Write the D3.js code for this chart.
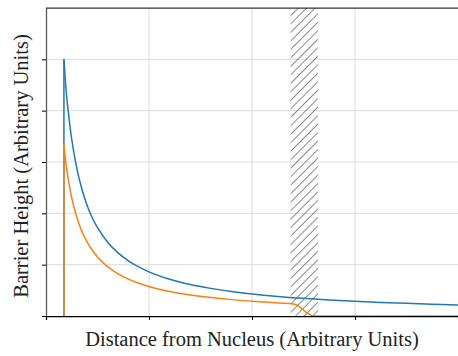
<!DOCTYPE html>
<html>
<head>
<meta charset="utf-8">
<script src="https://cdn.jsdelivr.net/npm/d3@7"></script>
<style>
    html, body { margin: 0; padding: 0; background: #ffffff; }
    svg { display: block; }
</style>
</head>
<body>
<svg></svg>
<script>
const width = 458;
const height = 356;

const margin = { left: 46, right: 0, top: 8, bottom: 40 };

// Barrier profiles
const blueDistance = [0.174, 0.19, 0.214, 0.24, 0.27, 0.3, 0.35, 0.4, 0.45, 0.5, 0.6, 0.7, 0.8, 0.9, 1.0, 1.2, 1.4, 1.6, 1.8, 2.0, 2.25, 2.5, 2.75, 3.0, 3.25, 3.5, 3.75, 4.0];
const blueHeight = [5.0, 4.53, 4.02, 3.58, 3.19, 2.87, 2.46, 2.15, 1.91, 1.72, 1.433, 1.229, 1.075, 0.956, 0.86, 0.717, 0.614, 0.538, 0.478, 0.43, 0.382, 0.344, 0.313, 0.287, 0.265, 0.246, 0.229, 0.215];

const orangeDistance = [0.174, 0.19, 0.214, 0.24, 0.27, 0.3, 0.35, 0.4, 0.45, 0.5, 0.6, 0.7, 0.8, 0.9, 1.0, 1.2, 1.4, 1.6, 1.8, 2.0, 2.2, 2.35, 2.4, 2.44, 2.48, 2.52, 2.56, 2.6, 3.0, 3.5, 4.0];
const orangeHeight = [3.34, 3.03, 2.69, 2.40, 2.13, 1.92, 1.64, 1.44, 1.28, 1.15, 0.958, 0.821, 0.719, 0.639, 0.575, 0.479, 0.411, 0.359, 0.319, 0.288, 0.261, 0.245, 0.235, 0.21, 0.15, 0.08, 0.03, 0, 0, 0, 0];

// shaded (hatched) region in distance units
const hatchRange = [2.376, 2.64];

const xTicks = [0, 1, 2, 3];
const yTicks = [0, 1, 2, 3, 4, 5];

const xLabel = "Distance from Nucleus (Arbitrary Units)";
const yLabel = "Barrier Height (Arbitrary Units)";

const blueColor = "#1f77b4";
const orangeColor = "#ff7f0e";
const gridColor = "#dcdcdc";
const fontFamily = "'Liberation Serif', 'DejaVu Serif', serif";
const fontSize = 20.5;

const svg = d3.select("svg")
    .attr("width", width)
    .attr("height", height)
    .attr("viewBox", [0, 0, width, height]);

const x = d3.scaleLinear()
    .domain([0, 4])
    .range([margin.left, width - margin.right]);

const y = d3.scaleLinear()
    .domain([0, 6])
    .range([height - margin.bottom, margin.top]);

const defs = svg.append("defs");
const hatch = defs.append("pattern")
    .attr("id", "hatch")
    .attr("patternUnits", "userSpaceOnUse")
    .attr("width", 6)
    .attr("height", 6)
    .attr("patternTransform", "rotate(45)");
hatch.append("line")
    .attr("x1", 0.5)
    .attr("y1", 0)
    .attr("x2", 0.5)
    .attr("y2", 6)
    .attr("stroke", "#666")
    .attr("stroke-width", 0.75);

// grid
svg.append("g")
    .selectAll("line")
    .data(xTicks.filter(d => d > 0))
    .join("line")
    .attr("x1", d => x(d))
    .attr("x2", d => x(d))
    .attr("y1", y(0))
    .attr("y2", y(6))
    .attr("stroke", gridColor)
    .attr("stroke-width", 1);

svg.append("g")
    .selectAll("line")
    .data(yTicks.filter(d => d > 0))
    .join("line")
    .attr("x1", x(0))
    .attr("x2", x(4))
    .attr("y1", d => y(d))
    .attr("y2", d => y(d))
    .attr("stroke", gridColor)
    .attr("stroke-width", 1);

// hatched band
svg.append("rect")
    .attr("x", x(hatchRange[0]))
    .attr("y", y(6))
    .attr("width", x(hatchRange[1]) - x(hatchRange[0]))
    .attr("height", y(0) - y(6))
    .attr("fill", "url(#hatch)")
    .attr("stroke", "none");

const line = d3.line()
    .x(d => x(d[0]))
    .y(d => y(d[1]))
    .curve(d3.curveMonotoneX);

const blueData = d3.zip(blueDistance, blueHeight);
const orangeData = d3.zip(orangeDistance, orangeHeight);

function drawSeries(data, color) {
    // vertical jump at the nucleus edge
    svg.append("line")
        .attr("x1", x(data[0][0]))
        .attr("x2", x(data[0][0]))
        .attr("y1", y(0))
        .attr("y2", y(data[0][1]))
        .attr("stroke", color)
        .attr("stroke-width", 1.5);
    svg.append("path")
        .attr("d", line(data))
        .attr("fill", "none")
        .attr("stroke", color)
        .attr("stroke-width", 1.5);
}

drawSeries(blueData, blueColor);
drawSeries(orangeData, orangeColor);

// axes
const xAxis = svg.append("g")
    .attr("transform", `translate(0, ${y(0)})`)
    .call(d3.axisBottom(x).tickValues(xTicks).tickSize(4).tickFormat(""));
xAxis.select(".domain").attr("stroke", "#000").attr("stroke-width", 1.25);
xAxis.selectAll(".tick line").attr("stroke", "#000").attr("stroke-width", 1);

const yAxis = svg.append("g")
    .attr("transform", `translate(${x(0)}, 0)`)
    .call(d3.axisLeft(y).tickValues(yTicks).tickSize(4).tickFormat(""));
yAxis.select(".domain").attr("stroke", "#555").attr("stroke-width", 1.25)
    .attr("d", `M0.5,${y(0)}V${y(6)}`);
yAxis.selectAll(".tick line").attr("stroke", "#000").attr("stroke-width", 1);

svg.append("line")
    .attr("x1", x(0))
    .attr("x2", x(4))
    .attr("y1", y(6))
    .attr("y2", y(6))
    .attr("stroke", "#333")
    .attr("stroke-width", 1.25);

// labels
svg.append("text")
    .attr("x", (x(0) + x(4)) / 2)
    .attr("y", 346)
    .attr("text-anchor", "middle")
    .attr("font-family", fontFamily)
    .attr("font-size", fontSize)
    .attr("fill", "#222")
    .text(xLabel);

svg.append("text")
    .attr("transform", `translate(28, ${(y(0) + y(6)) / 2 + 4}) rotate(-90)`)
    .attr("text-anchor", "middle")
    .attr("font-family", fontFamily)
    .attr("font-size", fontSize)
    .attr("fill", "#222")
    .text(yLabel);
</script>
</body>
</html>
